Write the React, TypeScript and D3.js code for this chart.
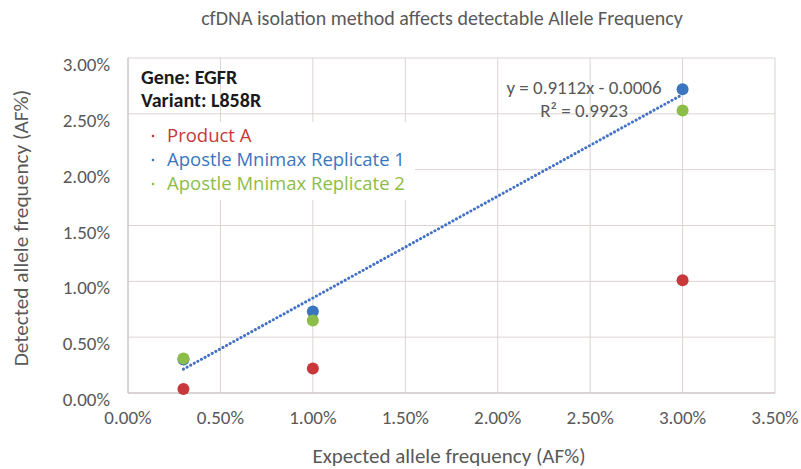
import { useEffect, useRef } from 'react';
import * as d3 from 'd3';

const expected = [0.3, 1.0, 3.0];
const productA = [0.035, 0.22, 1.01];
const replicate1 = [0.3, 0.73, 2.72];
const replicate2 = [0.31, 0.65, 2.53];

const xTicks = [0, 0.5, 1, 1.5, 2, 2.5, 3, 3.5];
const yTicks = [0, 0.5, 1, 1.5, 2, 2.5, 3];

// trendline shown on the chart: y = 0.9112x - 0.0006 (fractions)
const slope = 0.9112;
const intercept = -0.06; // in percent units

const series = [
  { name: 'Product A', values: productA, color: '#C8383A' },
  { name: 'Apostle Mnimax Replicate 1', values: replicate1, color: '#3A76C0' },
  { name: 'Apostle Mnimax Replicate 2', values: replicate2, color: '#8CBD48' },
];

const App = () => {
  const svgRef = useRef<SVGSVGElement>(null);

  useEffect(() => {
    const width = 801;
    const height = 469;
    const margin = { top: 58, right: 26, bottom: 76, left: 128 };

    const svg = d3.select(svgRef.current)
      .attr('width', width)
      .attr('height', height);
    svg.selectAll('*').remove();

    const font = 'Calibri, Carlito, "Open Sans", sans-serif';

    const x = d3.scaleLinear()
      .domain([0, 3.5])
      .range([margin.left, width - margin.right]);
    const y = d3.scaleLinear()
      .domain([0, 3])
      .range([height - margin.bottom, margin.top]);

    svg.append('rect')
      .attr('width', width).attr('height', height).attr('fill', '#fff');

    // grid
    svg.append('g')
      .selectAll('line')
      .data(xTicks)
      .enter().append('line')
      .attr('x1', d => x(d)).attr('x2', d => x(d))
      .attr('y1', y(0)).attr('y2', y(3))
      .attr('stroke', '#DDD3D3').attr('stroke-width', 1);
    svg.append('g')
      .selectAll('line')
      .data(yTicks)
      .enter().append('line')
      .attr('x1', x(0)).attr('x2', x(3.5))
      .attr('y1', d => y(d)).attr('y2', d => y(d))
      .attr('stroke', '#DDD3D3').attr('stroke-width', 1);

    // axes lines
    svg.append('line')
      .attr('x1', x(0)).attr('x2', x(3.5)).attr('y1', y(0)).attr('y2', y(0))
      .attr('stroke', '#C8BEBE');
    svg.append('line')
      .attr('x1', x(0)).attr('x2', x(0)).attr('y1', y(0)).attr('y2', y(3))
      .attr('stroke', '#C8BEBE');

    // tick labels
    svg.append('g')
      .selectAll('text')
      .data(xTicks)
      .enter().append('text')
      .attr('x', d => x(d))
      .attr('y', y(0) + 31)
      .attr('text-anchor', 'middle')
      .attr('font-family', font)
      .attr('font-size', 19)
      .attr('fill', '#595959')
      .text(d => d.toFixed(2) + '%');
    svg.append('g')
      .selectAll('text')
      .data(yTicks)
      .enter().append('text')
      .attr('x', x(0) - 18)
      .attr('y', d => y(d) + 13)
      .attr('text-anchor', 'end')
      .attr('font-family', font)
      .attr('font-size', 19)
      .attr('fill', '#595959')
      .text(d => d.toFixed(2) + '%');

    // titles
    svg.append('text')
      .attr('x', 442).attr('y', 25)
      .attr('text-anchor', 'middle')
      .attr('font-family', font)
      .attr('font-size', 20)
      .attr('fill', '#595959')
      .text('cfDNA isolation method affects detectable Allele Frequency');
    svg.append('text')
      .attr('x', 449).attr('y', 463)
      .attr('text-anchor', 'middle')
      .attr('font-family', font)
      .attr('font-size', 21)
      .attr('fill', '#595959')
      .text('Expected allele frequency (AF%)');
    svg.append('text')
      .attr('transform', 'translate(28, 228) rotate(-90)')
      .attr('text-anchor', 'middle')
      .attr('font-family', font)
      .attr('font-size', 21.3)
      .attr('fill', '#595959')
      .text('Detected allele frequency  (AF%)');

    // trendline
    const xr = d3.extent(expected) as [number, number];
    svg.append('line')
      .attr('x1', x(xr[0])).attr('y1', y(slope * xr[0] + intercept))
      .attr('x2', x(xr[1])).attr('y2', y(slope * xr[1] + intercept))
      .attr('stroke', '#4472C4')
      .attr('stroke-width', 3)
      .attr('stroke-linecap', 'round')
      .attr('stroke-dasharray', '0.1 4');

    // points
    series.forEach(s => {
      svg.append('g')
        .selectAll('circle')
        .data(s.values)
        .enter().append('circle')
        .attr('cx', (_, i) => x(expected[i]))
        .attr('cy', d => y(d))
        .attr('r', 6)
        .attr('fill', s.color);
    });

    // equation
    svg.append('text')
      .attr('x', 584).attr('y', 94)
      .attr('text-anchor', 'middle')
      .attr('font-family', font)
      .attr('font-size', 19)
      .attr('fill', '#595959')
      .text('y = 0.9112x - 0.0006');
    svg.append('text')
      .attr('x', 584).attr('y', 117)
      .attr('text-anchor', 'middle')
      .attr('font-family', font)
      .attr('font-size', 19)
      .attr('fill', '#595959')
      .text('R² = 0.9923');

    // gene box
    svg.append('text')
      .attr('x', 141).attr('y', 84)
      .attr('font-family', font)
      .attr('font-size', 20)
      .attr('font-weight', 'bold')
      .attr('fill', '#1a1a1a')
      .text('Gene: EGFR');
    svg.append('text')
      .attr('x', 141).attr('y', 107)
      .attr('font-family', font)
      .attr('font-size', 20)
      .attr('font-weight', 'bold')
      .attr('fill', '#1a1a1a')
      .text('Variant: L858R');

    // legend
    svg.append('rect')
      .attr('x', 129).attr('y', 122)
      .attr('width', 286).attr('height', 78)
      .attr('fill', '#fff');
    const legend = svg.append('g')
      .selectAll('g')
      .data(series)
      .enter().append('g')
      .attr('transform', (_, i) => `translate(153, ${142 + i * 24})`);
    legend.append('circle')
      .attr('cx', 0).attr('cy', -6).attr('r', 1.3)
      .attr('fill', d => d.color);
    legend.append('text')
      .attr('x', 14).attr('y', 0)
      .attr('font-family', '"Open Sans", sans-serif')
      .attr('font-size', 18.5)
      .attr('fill', d => d.color)
      .text(d => d.name);
  }, []);

  return (
    <div>
      <svg ref={svgRef} style={{ position: 'absolute', left: 0, top: 0 }} />
    </div>
  );
};

export default App;
